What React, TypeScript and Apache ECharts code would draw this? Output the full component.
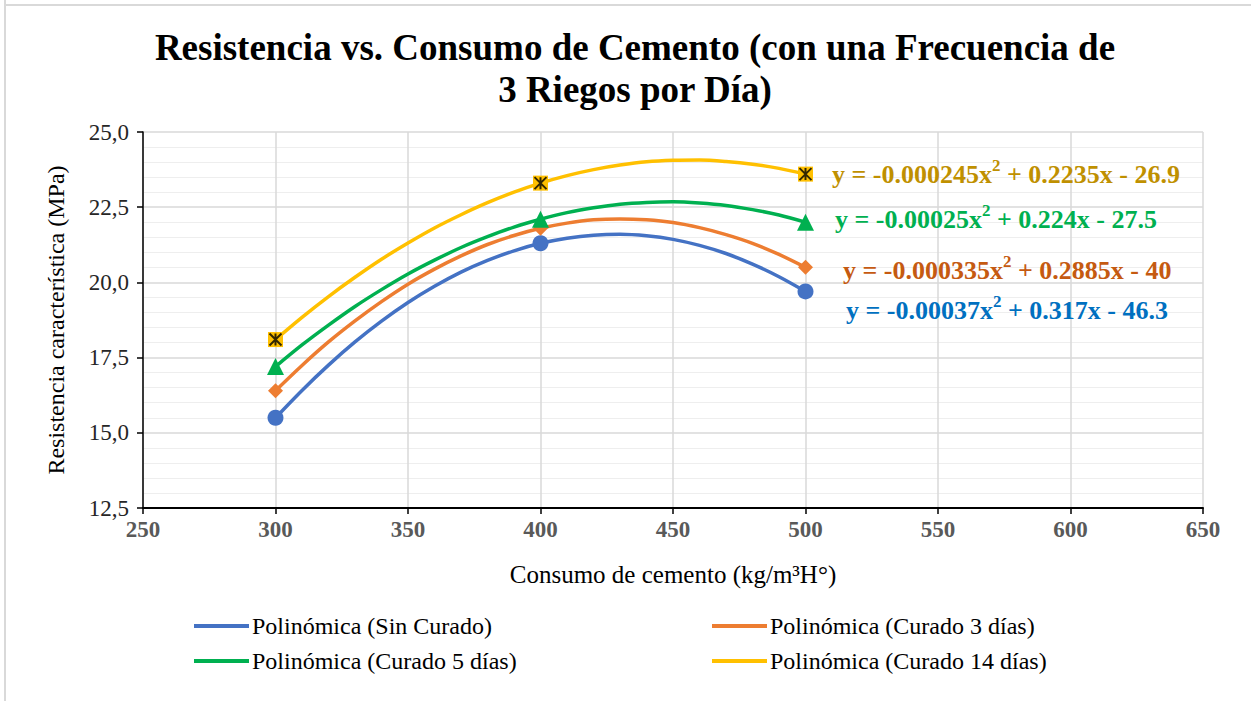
import React, { useEffect, useRef } from "react";
import * as echarts from "echarts";

const seriesNames = [
  "Polinómica (Sin Curado)",
  "Polinómica (Curado 3 días)",
  "Polinómica (Curado 5 días)",
  "Polinómica (Curado 14 días)",
];
const colors = ["#4472C4", "#ED7D31", "#00B050", "#FFC000"];
const eqColors = ["#0070C0", "#C55A11", "#00B050", "#BF9000"];
// equation parts: [before "x", after superscript]
const eqA = ["y = -0.00037x", "y = -0.000335x", "y = -0.00025x", "y = -0.000245x"];
const eqB = [" + 0.317x - 46.3", " + 0.2885x - 40", " + 0.224x - 27.5", " + 0.2235x - 26.9"];

// measured points
const dosage = [300, 400, 500];
const sinCurado = [15.5, 21.3, 19.7];
const curado3 = [16.4, 21.8, 20.5];
const curado5 = [17.2, 22.1, 22.0];
const curado14 = [18.1, 23.3, 23.6];

// trendline values
const trendX = [300, 310, 320, 330, 340, 350, 360, 370, 380, 390, 400, 410, 420, 430, 440, 450, 460, 470, 480, 490, 500];
const trendSin = [15.5, 16.41, 17.25, 18.02, 18.71, 19.33, 19.87, 20.34, 20.73, 21.05, 21.3, 21.47, 21.57, 21.6, 21.55, 21.43, 21.23, 20.96, 20.61, 20.19, 19.7];
const trend3 = [16.4, 17.24, 18.02, 18.72, 19.36, 19.94, 20.44, 20.88, 21.26, 21.56, 21.8, 21.97, 22.08, 22.11, 22.08, 21.99, 21.82, 21.59, 21.3, 20.93, 20.5];
const trend5 = [17.2, 17.92, 18.58, 19.2, 19.76, 20.28, 20.74, 21.16, 21.52, 21.84, 22.1, 22.32, 22.48, 22.6, 22.66, 22.68, 22.64, 22.56, 22.42, 22.24, 22.0];
const trend14 = [18.1, 18.84, 19.53, 20.17, 20.77, 21.31, 21.81, 22.25, 22.65, 23.0, 23.3, 23.55, 23.75, 23.9, 24.01, 24.06, 24.07, 24.02, 23.93, 23.79, 23.6];

const yTicks = [12.5, 15, 17.5, 20, 22.5, 25];
const xTicks = [250, 300, 350, 400, 450, 500, 550, 600, 650];

const FONT = "Liberation Serif";

const STAR = "path://M0,0 L10,10 M10,0 L0,10 M5,0 L5,10";

export default function App() {
  const ref = useRef<HTMLDivElement>(null);
  useEffect(() => {
    document.body.style.margin = "0";
    const chart = echarts.init(ref.current!, undefined, { renderer: "svg" });
    const trends = [trendSin, trend3, trend5, trend14];
    const points = [sinCurado, curado3, curado5, curado14];
    const symbols = ["circle", "diamond", "triangle", "rect"];
    const symbolSizes = [16, 15, 17, 15];
    const zip = (xs: number[], ys: number[]) => xs.map((x, i) => [x, ys[i]]);

    const series: any[] = [];
    trends.forEach((t, i) => {
      series.push({
        name: seriesNames[i],
        type: "line",
        data: zip(trendX, t),
        smooth: 0.3,
        symbol: "none",
        lineStyle: { color: colors[i], width: 3.5 },
        itemStyle: { color: colors[i] },
        z: 2,
      });
    });
    points.forEach((p, i) => {
      series.push({
        name: "pts" + i,
        type: "scatter",
        data: zip(dosage, p),
        symbol: symbols[i],
        symbolSize: symbolSizes[i],
        itemStyle: { color: colors[i], opacity: 1 },
        z: 5,
      });
    });
    series.push({
      name: "star",
      type: "scatter",
      data: zip(dosage, curado14),
      symbol: STAR,
      symbolSize: 12,
      itemStyle: { color: "none", borderColor: "#000", borderWidth: 2 },
      z: 6,
    });

    const eqPos = [
      [846, 309],
      [843, 269],
      [835, 218],
      [832, 173],
    ];

    const legendCommon = {
      orient: "vertical",
      top: 614,
      padding: 0,
      icon: "rect",
      itemWidth: 55,
      itemHeight: 4,
      itemGap: 11,
      selectedMode: false,
      textStyle: { fontFamily: FONT, fontSize: 24, color: "#000", lineHeight: 24, padding: [0, 0, 0, -2] },
    };

    chart.setOption({
      animation: false,
      backgroundColor: "#fff",
      textStyle: { fontFamily: FONT },
      title: {
        text: "Resistencia vs. Consumo de Cemento (con una Frecuencia de\n3 Riegos por Día)",
        left: 630,
        textAlign: "center",
        top: 21,
        textStyle: {
          fontFamily: FONT,
          fontSize: 37,
          fontWeight: "bold",
          color: "#000",
          lineHeight: 42,
        },
      },
      grid: { left: 143, right: 48, top: 132, bottom: 193, containLabel: false },
      xAxis: {
        type: "value",
        min: xTicks[0],
        max: xTicks[xTicks.length - 1],
        interval: 50,
        name: "Consumo de cemento (kg/m³H°)",
        nameLocation: "middle",
        nameGap: 54,
        nameTextStyle: { fontFamily: FONT, fontSize: 25, color: "#000" },
        axisLine: { show: true, onZero: false, lineStyle: { color: "#000", width: 2 } },
        axisTick: { show: true, length: 6, lineStyle: { color: "#000", width: 1.5 } },
        axisLabel: {
          fontFamily: FONT,
          fontSize: 23,
          fontWeight: "bold",
          color: "#595959",
          margin: 10,
        },
        splitLine: { show: true, lineStyle: { color: "#d9d9d9", width: 1.5 } },
      },
      yAxis: {
        type: "value",
        min: yTicks[0],
        max: yTicks[yTicks.length - 1],
        interval: 2.5,
        name: "Resistencia característica (MPa)",
        nameLocation: "middle",
        nameGap: 75,
        nameTextStyle: { fontFamily: FONT, fontSize: 24, color: "#000" },
        axisLine: { show: true, onZero: false, lineStyle: { color: "#000", width: 1.5 } },
        axisTick: { show: true, length: 6, lineStyle: { color: "#000", width: 1.5 } },
        axisLabel: {
          fontFamily: FONT,
          fontSize: 23,
          color: "#262626",
          margin: 14,
          formatter: (v: number) => v.toFixed(1).replace(".", ","),
        },
        splitLine: { show: true, lineStyle: { color: "#d9d9d9", width: 1.5 } },
        minorTick: { show: false, splitNumber: 5 },
        minorSplitLine: { show: true, lineStyle: { color: "#eeeeee", width: 1 } },
      },
      legend: [
        { ...legendCommon, data: [seriesNames[0], seriesNames[2]], left: 194 },
        { ...legendCommon, data: [seriesNames[1], seriesNames[3]], left: 712 },
      ],
      graphic: [
        {
          type: "line",
          shape: { x1: 5, y1: 0, x2: 5, y2: 701 },
          style: { stroke: "#d9d9d9", lineWidth: 2 },
        },
        {
          type: "line",
          shape: { x1: 5, y1: 5, x2: 1251, y2: 5 },
          style: { stroke: "#d9d9d9", lineWidth: 2 },
        },
        ...eqA.map((a, i) => ({
          type: "text",
          left: eqPos[i][0],
          top: eqPos[i][1] - 16,
          z: 10,
          style: {
            text: `{m|${a}}{s|2}{m|${eqB[i]}}`,
            rich: {
              m: {
                fill: eqColors[i],
                fontFamily: FONT,
                fontWeight: "bold",
                fontSize: 26,
                lineHeight: 30,
                verticalAlign: "bottom",
              },
              s: {
                fill: eqColors[i],
                fontFamily: FONT,
                fontWeight: "bold",
                fontSize: 17,
                lineHeight: 30,
                verticalAlign: "top",
                padding: [0, 0, 10, 0],
              },
            },
          },
        })),
      ],
      series,
    });
    return () => chart.dispose();
  }, []);
  return <div ref={ref} style={{ width: 1251, height: 701 }} />;
}
